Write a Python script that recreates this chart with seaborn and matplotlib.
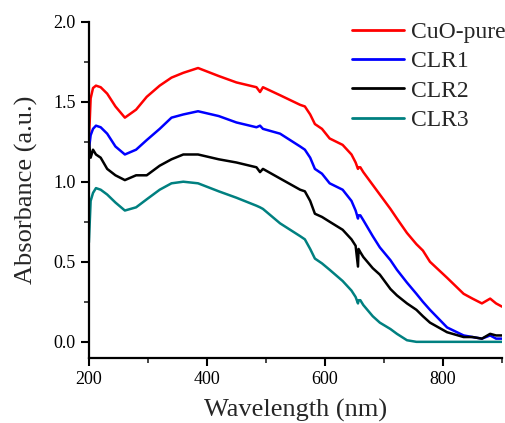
import matplotlib
matplotlib.use("Agg")
import matplotlib.pyplot as plt
import seaborn as sns
import pandas as pd
from matplotlib.ticker import MultipleLocator

# wavelength grid (nm) shared by all samples
wavelength = [200, 203, 207, 212, 220, 231, 245, 261, 280, 298, 320, 340, 360, 385,
              420, 450, 484, 490, 495, 524, 558, 566, 575, 583, 595, 608, 630, 645,
              652, 656, 657, 660, 665, 681, 693, 711, 722, 739, 755, 766, 778, 807,
              835, 850, 866, 880, 890, 900]

cuo_pure = [1.25, 1.52, 1.585, 1.60, 1.59, 1.55, 1.47, 1.40, 1.45, 1.53, 1.60, 1.65, 1.68, 1.71,
            1.66, 1.62, 1.59, 1.56, 1.59, 1.54, 1.48, 1.47, 1.42, 1.36, 1.33, 1.27, 1.23, 1.17,
            1.12, 1.08, 1.09, 1.09, 1.06, 0.98, 0.92, 0.83, 0.77, 0.68, 0.61, 0.57, 0.50, 0.40,
            0.30, 0.27, 0.24, 0.27, 0.24, 0.22]

clr1 = [1.20, 1.29, 1.33, 1.35, 1.34, 1.30, 1.22, 1.17, 1.20, 1.26, 1.33, 1.40, 1.42, 1.44,
        1.41, 1.37, 1.34, 1.35, 1.33, 1.30, 1.22, 1.20, 1.15, 1.08, 1.05, 0.99, 0.95, 0.88,
        0.82, 0.77, 0.79, 0.79, 0.76, 0.66, 0.59, 0.51, 0.45, 0.37, 0.30, 0.25, 0.20, 0.09,
        0.04, 0.03, 0.02, 0.04, 0.02, 0.02]

clr2 = [1.25, 1.15, 1.20, 1.17, 1.15, 1.08, 1.04, 1.01, 1.04, 1.04, 1.10, 1.14, 1.17, 1.17,
        1.14, 1.12, 1.09, 1.06, 1.08, 1.02, 0.95, 0.94, 0.88, 0.80, 0.78, 0.75, 0.70, 0.64,
        0.60, 0.47, 0.58, 0.56, 0.53, 0.46, 0.42, 0.33, 0.29, 0.24, 0.20, 0.16, 0.12, 0.06,
        0.03, 0.03, 0.02, 0.05, 0.04, 0.04]

clr3 = [0.62, 0.88, 0.93, 0.96, 0.95, 0.92, 0.87, 0.82, 0.84, 0.89, 0.95, 0.99, 1.00, 0.99,
        0.94, 0.90, 0.85, 0.84, 0.83, 0.74, 0.66, 0.64, 0.58, 0.52, 0.49, 0.45, 0.38, 0.32,
        0.28, 0.24, 0.26, 0.26, 0.23, 0.16, 0.12, 0.08, 0.05, 0.01, 0.0, 0.0, 0.0, 0.0,
        0.0, 0.0, 0.0, 0.0, 0.0, 0.0]

samples = ["CuO-pure", "CLR1", "CLR2", "CLR3"]
colors = ["#FF0000", "#0000FF", "#000000", "#008080"]

df = pd.concat([
    pd.DataFrame({"wavelength": wavelength, "absorbance": vals, "sample": name})
    for name, vals in zip(samples, [cuo_pure, clr1, clr2, clr3])
])

sns.set_style("ticks")
plt.rcParams["font.family"] = ["Liberation Serif", "DejaVu Serif"]

fig = plt.figure(figsize=(5.05, 4.23), dpi=100)
ax = fig.add_axes([0.176, 0.154, 0.818, 0.795])

sns.lineplot(data=df, x="wavelength", y="absorbance", hue="sample",
             palette=dict(zip(samples, colors)), hue_order=samples,
             linewidth=1.8, ax=ax)

ax.set_xlim(200, 900)
ax.set_ylim(-0.1, 2.0)
ax.xaxis.set_major_locator(MultipleLocator(200))
ax.xaxis.set_minor_locator(MultipleLocator(100))
ax.yaxis.set_major_locator(MultipleLocator(0.5))
ax.yaxis.set_minor_locator(MultipleLocator(0.25))
ax.yaxis.set_major_formatter(matplotlib.ticker.FormatStrFormatter("%.1f"))
ax.tick_params(which="major", direction="out", length=6, width=1.5, labelsize=13, colors="black")
ax.tick_params(which="minor", direction="out", length=3.5, width=1.2)
for s in ["left", "bottom"]:
    ax.spines[s].set_linewidth(1.6)
    ax.spines[s].set_color("black")
sns.despine(ax=ax)

ax.set_xlabel("Wavelength (nm)", fontsize=19, labelpad=8)
ax.set_ylabel("Absorbance (a.u.)", fontsize=19, labelpad=11)

leg = ax.legend(loc="upper left", bbox_to_anchor=(0.637, 1.0), frameon=False,
                fontsize=17, handlelength=2.2, handletextpad=0.3,
                labelspacing=0.33, borderpad=0, borderaxespad=0)
for line in leg.get_lines():
    line.set_linewidth(2.0)

fig.savefig("out.png", dpi=100)
